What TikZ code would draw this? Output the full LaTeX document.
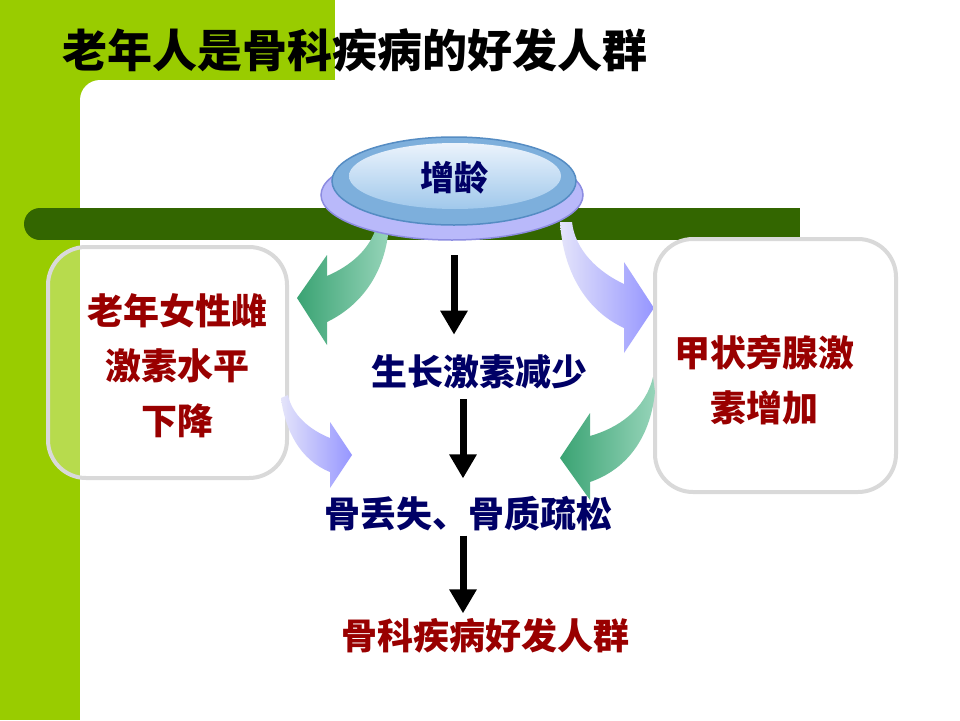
\documentclass[tikz,border=0pt]{standalone}
\usepackage{fontspec}
\newfontfamily\cjk{Noto Sans CJK SC}
\usetikzlibrary{arrows.meta,shapes.geometric,calc}

\definecolor{lime}{RGB}{153,204,0}
\definecolor{bargreen}{RGB}{51,102,0}
\definecolor{boxgray}{RGB}{217,217,217}
\definecolor{navytxt}{RGB}{0,0,102}
\definecolor{redtxt}{RGB}{153,0,0}
\definecolor{greenhead}{RGB}{58,163,115}
\definecolor{greentail}{RGB}{150,212,185}
\definecolor{lavhead}{RGB}{150,150,255}
\definecolor{lavtail}{RGB}{228,228,250}
\definecolor{lavbase}{RGB}{185,185,250}
\definecolor{lavedge}{RGB}{140,140,225}
\definecolor{blueedge}{RGB}{85,140,195}
\definecolor{bluefill}{RGB}{125,175,220}
\definecolor{bluehi}{RGB}{235,243,252}
\definecolor{bluelo}{RGB}{160,200,235}

\tikzset{
  roundbox/.style={draw=boxgray, line width=4pt, fill=white, rounded corners=38pt},
  redlabel/.style={text=redtxt, font=\cjk\bfseries\fontsize{36}{55}\selectfont, align=center, inner sep=0pt},
  navylabel/.style={text=navytxt, font=\cjk\bfseries\fontsize{36}{44}\selectfont, inner sep=0pt},
  downarrow/.style={line width=7pt, -{Triangle[width=26pt,length=24pt]}},
}

\begin{document}
\begin{tikzpicture}[x=1pt,y=-1pt]
  \useasboundingbox (0,0) rectangle (960,720);
  \clip (0,0) rectangle (960,720);

  % slide background
  \fill[lime] (0,0) rectangle (335,120);
  \fill[lime] (0,0) rectangle (80,720);
  \fill[white, rounded corners=20pt] (80,80) rectangle (1000,760);
  \node[font=\cjk\bfseries\fontsize{45}{50}\selectfont, inner sep=0pt] (title) at (355,50) {老年人是骨科疾病的好发人群};

  % dark bar
  \fill[bargreen] (40,208) rectangle (800,240);
  \fill[bargreen] (40,224) circle (16);

  % curved arrows under the ellipse
  \shade[left color=greenhead, right color=greentail]
    (389,225) .. controls (386,272) and (362,305) .. (327,322) -- (327,345) -- (297,298)
    -- (327,255) -- (327,276) .. controls (350,266) and (370,250) .. (377,225) -- cycle;
  \shade[left color=lavtail, right color=lavhead]
    (560,222) .. controls (563,270) and (585,310) .. (624,328) -- (624,353) -- (654,308)
    -- (624,262) -- (624,284) .. controls (598,272) and (575,250) .. (572,222) -- cycle;

  % age ellipse
  \fill[lavbase, draw=lavedge, line width=1.5pt] (452,195) ellipse [x radius=131, y radius=45];
  \fill[bluefill, draw=blueedge, line width=1.5pt] (454,181) ellipse [x radius=122, y radius=44];
  \shade[top color=bluehi, bottom color=bluelo] (455,176) ellipse [x radius=106, y radius=33];
  \node[ellipse, minimum width=244pt, minimum height=88pt, inner sep=0pt,
        text=navytxt, font=\cjk\bfseries\fontsize{34}{40}\selectfont] (age) at (454,178) {增龄};

  % side boxes
  \node[roundbox, fill opacity=0.3, minimum width=239pt, minimum height=231pt] (leftbox) at (167.5,362.5) {};
  \node[roundbox, minimum width=241pt, minimum height=253pt] (rightbox) at (775.5,365.5) {};

  % curved arrows from the boxes
  \shade[left color=lavtail, right color=lavhead]
    (281,398) .. controls (285,430) and (300,460) .. (330,472) -- (330,488) -- (352,455)
    -- (330,422) -- (330,438) .. controls (310,430) and (292,415) .. (288,395) -- cycle;
  \shade[left color=greenhead, right color=greentail]
    (655,392) .. controls (650,440) and (625,470) .. (590,482) -- (590,500) -- (560,458)
    -- (590,413) -- (590,436) .. controls (618,428) and (645,410) .. (653,377) -- cycle;

  % texts
  \node[redlabel] (estro) at (177,366) {老年女性雌\\激素水平\\下降};
  \node[redlabel] (pth) at (764,380) {甲状旁腺激\\素增加};
  \node[navylabel] (gh) at (479,372) {生长激素减少};
  \node[navylabel] (bone) at (468,514) {骨丢失、骨质疏松};
  \node[redlabel] (result) at (485,636) {骨科疾病好发人群};

  % straight arrows
  \coordinate (axis) at (463,0);
  \draw[downarrow, shorten <=33pt, shorten >=20pt] (age.south) -- (age.south |- gh.north);
  \draw[downarrow, shorten <=10pt, shorten >=18pt] (gh.south -| axis) -- (bone.north -| axis);
  \draw[downarrow, shorten <=4pt, shorten >=5pt] (bone.south -| axis) -- (result.north -| axis);
\end{tikzpicture}
\end{document}
